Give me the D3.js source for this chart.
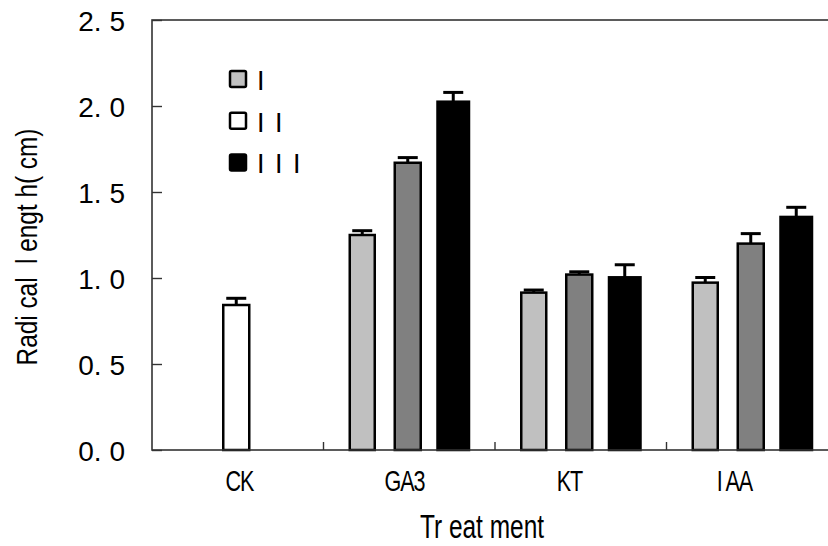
<!DOCTYPE html>
<html>
<head>
<meta charset="utf-8">
<script src="https://cdn.jsdelivr.net/npm/d3@7"></script>
<style>
  body { margin: 0; background: #fff; }
  text { font-family: "Liberation Sans", Arial, sans-serif; fill: #000; }
</style>
</head>
<body>
<div id="chart"></div>
<script>
// data
const categories = ["CK", "GA3", "KT", "I AA"];
const seriesNames = ["I", "I I", "I I I"];
const valuesI = [null, 1.25, 0.915, 0.973];
const valuesII = [0.843, 1.67, 1.02, 1.2];
const valuesIII = [null, 2.025, 1.004, 1.355];
const errI = [null, 0.025, 0.015, 0.03];
const errII = [0.039, 0.03, 0.016, 0.058];
const errIII = [null, 0.054, 0.073, 0.056];
const yTicks = [0, 0.5, 1.0, 1.5, 2.0, 2.5];

const width = 828, height = 546;
const plotLeft = 152, plotTop = 20, plotBottom = 450, plotRight = 838;

const svg = d3.select("#chart")
    .append("svg")
    .attr("width", width)
    .attr("height", height);

const x = d3.scaleBand().domain(categories).range([plotLeft, plotRight]);
const xLabel = d3.scaleBand().domain(categories).range([157, 817]);
const xSeries = d3.scalePoint().domain(seriesNames).range([-47, 44]);
const y = d3.scaleLinear().domain([0, 2.5]).range([plotBottom, plotTop]);

// per-series look
const fills = ["#c0c0c0", "#808080", "#000000"];
const barW = [25, 26, 31.5];
const legendFills = ["#c0c0c0", "#ffffff", "#000000"];

const series = [
    {name: seriesNames[0], values: valuesI, errs: errI},
    {name: seriesNames[1], values: valuesII, errs: errII},
    {name: seriesNames[2], values: valuesIII, errs: errIII}
];

const bars = [];
series.forEach((s, si) => {
    categories.forEach((c, ci) => {
        if (s.values[ci] == null) return;
        bars.push({cat: c, si: si, name: s.name, value: s.values[ci], err: s.errs[ci]});
    });
});

function barFill(d) {
    // CK control bar is drawn white, like the legend entry
    if (d.cat === "CK") return "#ffffff";
    return fills[d.si];
}

const cx = d => x(d.cat) + x.bandwidth() / 2 + xSeries(d.name);

// error bars (upper only)
const eb = svg.append("g").attr("stroke", "#000").attr("stroke-width", 3);
eb.selectAll("line.v")
    .data(bars)
  .join("line")
    .attr("class", "v")
    .attr("x1", cx).attr("x2", cx)
    .attr("y1", d => y(d.value))
    .attr("y2", d => y(d.value + d.err));
eb.selectAll("line.cap")
    .data(bars)
  .join("line")
    .attr("class", "cap")
    .attr("x1", d => cx(d) - 10).attr("x2", d => cx(d) + 10)
    .attr("y1", d => y(d.value + d.err))
    .attr("y2", d => y(d.value + d.err));

// bars
svg.append("g").selectAll("rect")
    .data(bars)
  .join("rect")
    .attr("x", d => cx(d) - barW[d.si] / 2)
    .attr("width", d => barW[d.si])
    .attr("y", d => y(d.value))
    .attr("height", d => y(0) - y(d.value))
    .attr("fill", barFill)
    .attr("stroke", "#000")
    .attr("stroke-width", 2.5);

// frame
svg.append("rect")
    .attr("x", plotLeft).attr("y", plotTop)
    .attr("width", plotRight - plotLeft).attr("height", plotBottom - plotTop)
    .attr("fill", "none")
    .attr("stroke", "#333")
    .attr("stroke-width", 1.6);

// y axis
const yAxis = svg.append("g")
    .attr("transform", `translate(${plotLeft},0)`)
    .call(d3.axisLeft(y)
        .tickValues(yTicks)
        .tickSize(-10)
        .tickPadding(27)
        .tickFormat(d => d3.format(".1f")(d).replace(".", ". ")));
yAxis.select(".domain").remove();
yAxis.selectAll(".tick line").attr("stroke", "#333").attr("stroke-width", 1.4);
yAxis.selectAll(".tick text")
    .attr("font-size", 28)
    .attr("dy", "0.36em")
    .style("white-space", "pre")
    .attr("font-family", "Liberation Sans, Arial, sans-serif")
    .attr("fill", "#000");

// x ticks between categories
svg.append("g").selectAll("line")
    .data(categories.slice(1))
  .join("line")
    .attr("x1", d => x(d)).attr("x2", d => x(d))
    .attr("y1", plotBottom).attr("y2", plotBottom - 8)
    .attr("stroke", "#333")
    .attr("stroke-width", 1.4);

// category labels (the original type is condensed)
svg.append("g").selectAll("text")
    .data(categories)
  .join("text")
    .attr("transform", d => `translate(${xLabel(d) + xLabel.bandwidth() / 2},491) scale(0.72,1)`)
    .attr("text-anchor", "middle")
    .attr("font-size", 30)
    .attr("letter-spacing", -1.5)
    .style("white-space", "pre")
    .text(d => d);

// axis titles
svg.append("text")
    .attr("transform", "translate(482,538) scale(0.72,1)")
    .attr("text-anchor", "middle")
    .attr("font-size", 34)
    .style("white-space", "pre")
    .text("Tr eat ment");

svg.append("text")
    .attr("transform", "translate(37,247) rotate(-90) scale(0.84,1)")
    .attr("text-anchor", "middle")
    .attr("font-size", 29)
    .style("white-space", "pre")
    .text("Radi cal  l engt h( cm)");

// legend
const legend = svg.append("g").selectAll("g")
    .data(seriesNames)
  .join("g")
    .attr("transform", (d, i) => `translate(230,${71 + i * 41.7})`);
legend.append("rect")
    .attr("width", 16).attr("height", 16)
    .attr("rx", 1.5)
    .attr("fill", (d, i) => legendFills[i])
    .attr("stroke", "#000")
    .attr("stroke-width", 2.5);
legend.append("text")
    .attr("x", 27)
    .attr("y", 19)
    .attr("font-size", 27)
    .attr("letter-spacing", 1.5)
    .style("white-space", "pre")
    .text(d => d);
</script>
</body>
</html>
